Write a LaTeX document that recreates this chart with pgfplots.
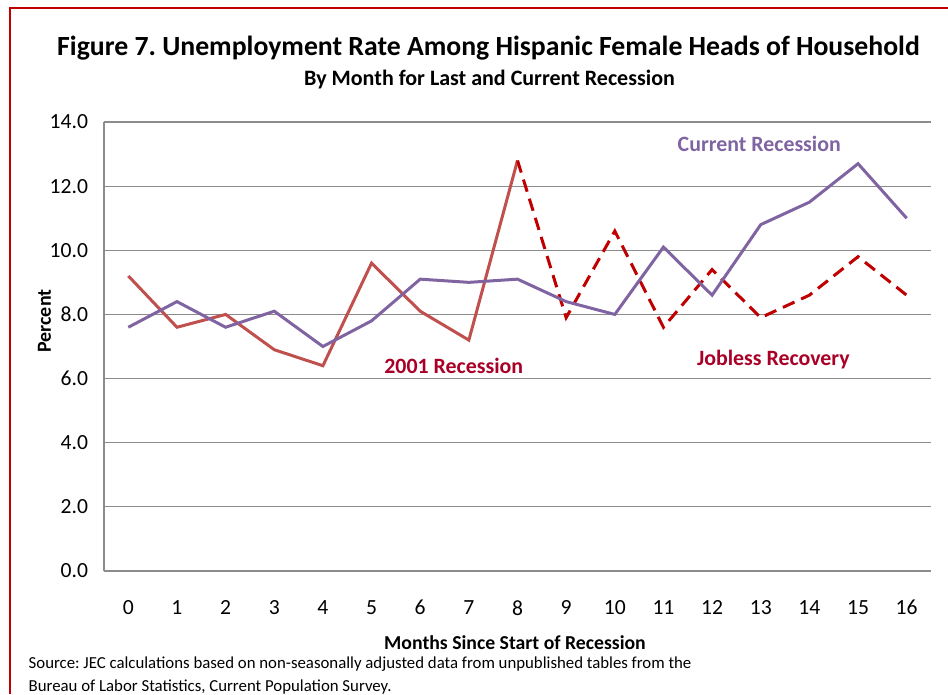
\documentclass[border=0pt]{standalone}
\usepackage{pgfplots}
\pgfplotsset{compat=1.18}
\usepackage{fontspec}
\setmainfont{Carlito}
\frenchspacing
\definecolor{cOld}{HTML}{C0504D}
\definecolor{cCur}{HTML}{8064A2}
\definecolor{cJob}{HTML}{C00000}
\definecolor{cLab}{HTML}{A80027}
\definecolor{cGrid}{HTML}{8C8C8C}
\begin{document}
\begin{tikzpicture}[x=0.75pt,y=0.75pt]
\useasboundingbox (0,0) rectangle (948,694);
\draw[cJob, line width=1.5pt] (10,0) -- (10,686) -- (948,686);
\node[font=\bfseries\fontsize{20.8}{24}\selectfont] at (488.5,645.5) {Figure 7. Unemployment Rate Among Hispanic Female Heads of Household};
\node[font=\bfseries\fontsize{16.5}{19}\selectfont] at (489.5,614) {By Month for Last and Current Recession};
\node[font=\bfseries\fontsize{15}{18}\selectfont, rotate=90] at (44.5,373) {Percent};
\node[font=\bfseries\fontsize{14.8}{18}\selectfont] at (515,51) {Months Since Start of Recession};
\node[font=\fontsize{12.6}{15}\selectfont, anchor=west] at (24,30) {Source: JEC calculations based on non-seasonally adjusted data from unpublished tables from the};
\node[font=\fontsize{12.6}{15}\selectfont, anchor=west] at (24,7) {Bureau of Labor Statistics, Current Population Survey.};
\begin{axis}[
  at={(78pt,92.25pt)}, anchor=south west,
  width=620.25pt, height=336.75pt, scale only axis,
  xmin=-0.5, xmax=16.5, ymin=0, ymax=14,
  xtick={0,1,...,16}, ytick={0,2,...,14},
  axis x line=bottom, axis y line=left,
  axis line style={draw=cGrid, line width=0.8pt, -},
  ymajorgrids, grid style={draw=cGrid, line width=0.8pt},
  major tick length=0pt,
  /pgf/number format/assume math mode=true,
  yticklabel style={/pgf/number format/fixed, /pgf/number format/fixed zerofill, /pgf/number format/precision=1, xshift=-8.5pt},
  tick label style={font=\fontsize{16.2}{19}\selectfont},
  xticklabel style={yshift=-18.5pt},
  clip=false,
]
\addplot[cOld, line width=2.25pt] coordinates {
(0,9.2) (1,7.6) (2,8.0) (3,6.9) (4,6.4) (5,9.6) (6,8.1) (7,7.2) (8,12.8)};
\addplot[cJob, line width=2.25pt, dash pattern=on 9.5pt off 5.5pt] coordinates {
(8,12.8) (9,7.9) (10,10.6) (11,7.6) (12,9.4) (13,7.9) (14,8.6) (15,9.8) (16,8.6)};
\addplot[cCur, line width=2.25pt] coordinates {
(0,7.6) (1,8.4) (2,7.6) (3,8.1) (4,7.0) (5,7.8) (6,9.1) (7,9.0) (8,9.1) (9,8.4) (10,8.0) (11,10.1) (12,8.6) (13,10.8) (14,11.5) (15,12.7) (16,11.0)};
\node[font=\bfseries\fontsize{16.4}{19}\selectfont, text=cCur] at (axis cs:12.97,13.31) {Current Recession};
\node[font=\bfseries\fontsize{16.4}{19}\selectfont, text=cLab] at (axis cs:6.69,6.39) {2001 Recession};
\node[font=\bfseries\fontsize{16.4}{19}\selectfont, text=cLab] at (axis cs:13.26,6.58) {Jobless Recovery};
\end{axis}
\end{tikzpicture}
\end{document}
